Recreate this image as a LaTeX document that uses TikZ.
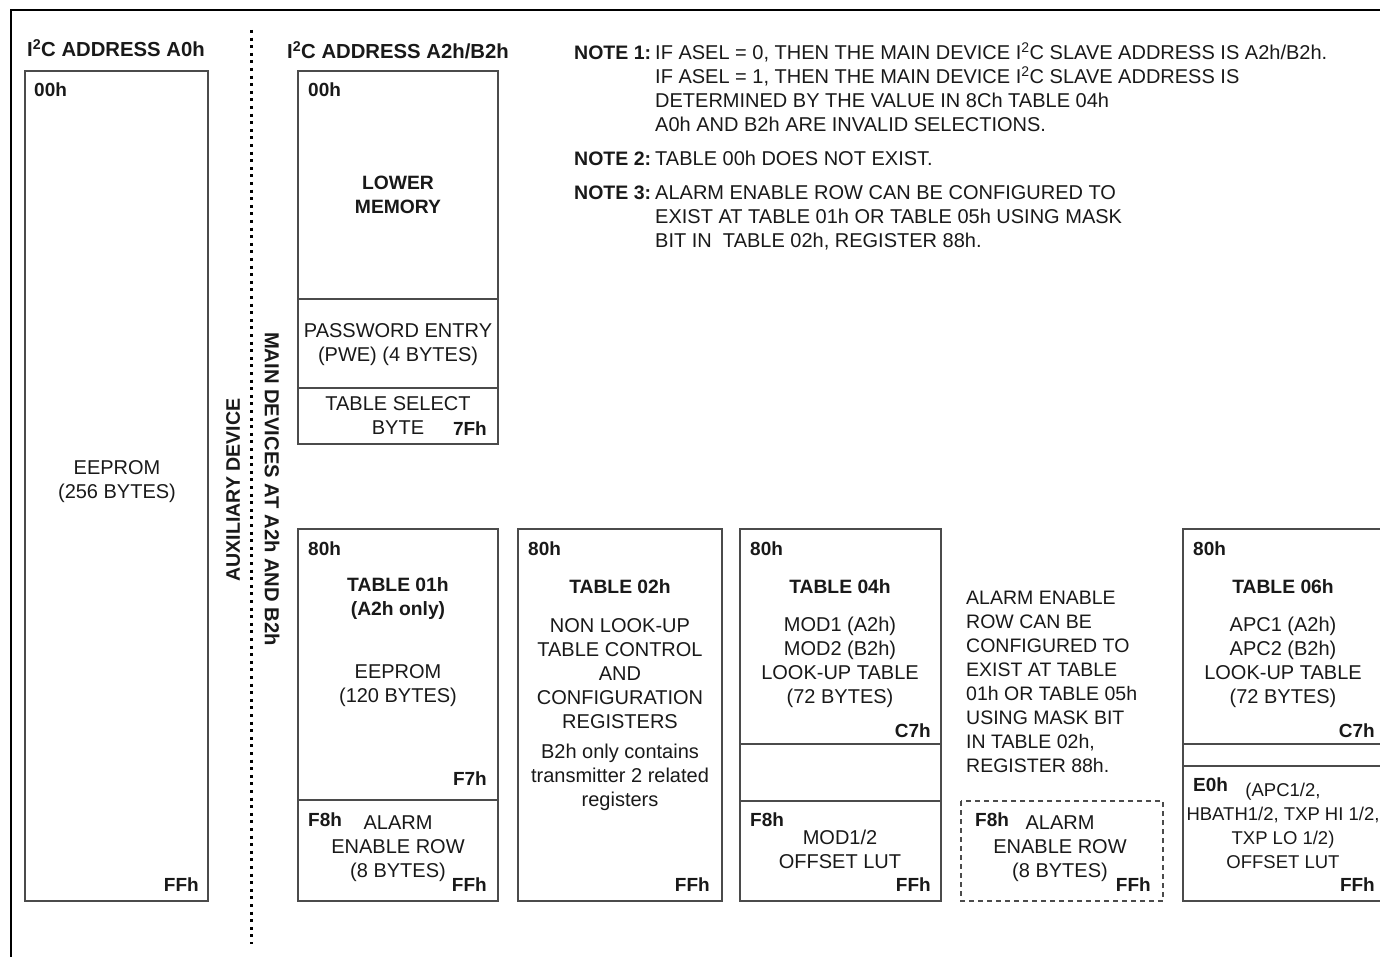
\documentclass[tikz,border=0pt]{standalone}
\usepackage{fontspec}
\setmainfont{Liberation Sans}
\definecolor{boxc}{RGB}{75,75,75}
\definecolor{txtc}{RGB}{25,25,25}
\begin{document}
\begin{tikzpicture}[x=1pt,y=-1pt,
 mbox/.style={draw=boxc,line width=2.2pt},
 dbox/.style={draw=boxc,line width=1.6pt,dash pattern=on 5pt off 4pt},
 txt/.style={text=txtc,inner sep=0pt,align=center,font=\fontsize{20}{24}\selectfont},
 btxt/.style={txt,font=\bfseries\fontsize{19.3}{24}\selectfont},
 headtxt/.style={text=txtc,inner sep=0pt,font=\bfseries\fontsize{20.3}{24}\selectfont},
 sidetxt/.style={text=txtc,inner sep=0pt,font=\bfseries\fontsize{19.6}{24}\selectfont},
 addr/.style={text=txtc,inner sep=0pt,font=\bfseries\fontsize{19}{22}\selectfont},
 note/.style={text=txtc,inner sep=0pt,align=left,font=\fontsize{20}{24}\selectfont},
 notelbl/.style={text=txtc,inner sep=0pt,font=\bfseries\fontsize{19.5}{24}\selectfont},
]
\useasboundingbox (0,0) rectangle (1380,957);
\clip (0,0) rectangle (1380,957);
% frame
\draw[line width=1.6pt,black] (11,965) -- (11,10) -- (1390,10);
% dotted separator
\draw[line width=3pt,black,dash pattern=on 3pt off 4.6pt] (251,30) -- (251,944);

% headings
\node[headtxt,anchor=base west] (h1) at (27,57) {I\textsuperscript{2}C ADDRESS A0h};
\node[headtxt,anchor=base west] (h2) at (287,59) {I\textsuperscript{2}C ADDRESS A2h/B2h};

% rotated labels
\node[sidetxt,rotate=90] (aux) at (233,490) {AUXILIARY DEVICE};
\node[sidetxt,rotate=-90,font=\bfseries\fontsize{20.2}{24}\selectfont] (main) at (272,489) {MAIN DEVICES AT A2h AND B2h};

% left box A0h
\draw[mbox] (25,71) rectangle (208,901);
\node[addr,anchor=base west] (a0s) at (34,97) {00h};
\node[addr,anchor=base east] (a0e) at (199,891) {FFh};
\node[txt] (a0t) at (117,482) {EEPROM\\(256 BYTES)};

% upper box A2h
\draw[mbox] (298,71) rectangle (498,444);
\draw[mbox] (298,299) -- (498,299);
\draw[mbox] (298,388) -- (498,388);
\node[addr,anchor=base west] (ls) at (308,97) {00h};
\node[btxt] (lm) at (398,195) {LOWER\\MEMORY};
\node[txt] (pwe) at (398,345) {PASSWORD ENTRY\\(PWE) (4 BYTES)};
\node[txt] (tsel) at (398,404) {TABLE SELECT};
\node[txt] (tbyte) at (398,428) {BYTE};
\node[addr,anchor=base east] (t7f) at (487,435) {7Fh};

% table 01h
\draw[mbox] (298,529) rectangle (498,901);
\draw[mbox] (298,800) -- (498,800);
\node[addr,anchor=base west] (t1s) at (308,555) {80h};
\node[btxt] (t1t) at (398,599) {TABLE 01h\\(A2h only)};
\node[txt] (t1e) at (398,686) {EEPROM\\(120 BYTES)};
\node[addr,anchor=base east] (t1f7) at (487,785) {F7h};
\node[addr,anchor=base west] (t1f8) at (308,826) {F8h};
\node[txt] (t1a) at (398,849) {ALARM\\ENABLE ROW\\(8 BYTES)};
\node[addr,anchor=base east] (t1ff) at (487,891) {FFh};

% table 02h
\draw[mbox] (518,529) rectangle (722,901);
\node[addr,anchor=base west] (t2s) at (528,555) {80h};
\node[btxt] (t2t) at (620,587) {TABLE 02h};
\node[txt] (t2d) at (620,674) {NON LOOK-UP\\TABLE CONTROL\\AND\\CONFIGURATION\\REGISTERS};
\node[txt] (t2n) at (620,777) {B2h only contains\\transmitter 2 related\\registers};
\node[addr,anchor=base east] (t2ff) at (710,891) {FFh};

% table 04h
\draw[mbox] (740,529) rectangle (941,901);
\draw[mbox] (740,744) -- (941,744);
\draw[mbox] (740,801) -- (941,801);
\node[addr,anchor=base west] (t4s) at (750,555) {80h};
\node[btxt] (t4t) at (840,587) {TABLE 04h};
\node[txt] (t4d) at (840,662) {MOD1 (A2h)\\MOD2 (B2h)\\LOOK-UP TABLE\\(72 BYTES)};
\node[addr,anchor=base east] (t4c7) at (931,737) {C7h};
\node[addr,anchor=base west] (t4f8) at (750,826) {F8h};
\node[txt] (t4o) at (840,849) {MOD1/2\\OFFSET LUT};
\node[addr,anchor=base east] (t4ff) at (931,891) {FFh};

% alarm note text
\node[note,anchor=west,font=\fontsize{19.5}{24}\selectfont] (alr) at (966,682) {ALARM ENABLE\\ROW CAN BE\\CONFIGURED TO\\EXIST AT TABLE\\01h OR TABLE 05h\\USING MASK BIT\\IN TABLE 02h,\\REGISTER 88h.};

% dashed alarm row
\draw[dbox] (961,801) rectangle (1163,901);
\node[addr,anchor=base west] (daf8) at (975,826) {F8h};
\node[txt] (dat) at (1060,849) {ALARM\\ENABLE ROW\\(8 BYTES)};
\node[addr,anchor=base east] (daff) at (1151,891) {FFh};

% table 06h
\draw[mbox] (1183,529) rectangle (1386,901);
\draw[mbox] (1183,744) -- (1386,744);
\draw[mbox] (1183,766) -- (1386,766);
\node[addr,anchor=base west] (t6s) at (1193,555) {80h};
\node[btxt] (t6t) at (1283,587) {TABLE 06h};
\node[txt] (t6d) at (1283,662) {APC1 (A2h)\\APC2 (B2h)\\LOOK-UP TABLE\\(72 BYTES)};
\node[addr,anchor=base east] (t6c7) at (1375,737) {C7h};
\node[addr,anchor=base west] (t6e0) at (1193,791) {E0h};
\node[txt,font=\fontsize{18.5}{24}\selectfont] (t6o) at (1283,826) {(APC1/2,\\HBATH1/2, TXP HI 1/2,\\TXP LO 1/2)\\OFFSET LUT};
\node[addr,anchor=base east] (t6ff) at (1375,891) {FFh};

% notes
\node[notelbl,anchor=base west] (n1l) at (574,60) {NOTE 1:};
\node[note,anchor=base west] (n1a) at (655,60) {IF ASEL = 0, THEN THE MAIN DEVICE I\textsuperscript{2}C SLAVE ADDRESS IS A2h/B2h.};
\node[note,anchor=base west] (n1b) at (655,84) {IF ASEL = 1, THEN THE MAIN DEVICE I\textsuperscript{2}C SLAVE ADDRESS IS};
\node[note,anchor=base west] (n1c) at (655,108) {DETERMINED BY THE VALUE IN 8Ch TABLE 04h};
\node[note,anchor=base west] (n1d) at (655,132) {A0h AND B2h ARE INVALID SELECTIONS.};
\node[notelbl,anchor=base west] (n2l) at (574,166) {NOTE 2:};
\node[note,anchor=base west] (n2a) at (655,166) {TABLE 00h DOES NOT EXIST.};
\node[notelbl,anchor=base west] (n3l) at (574,200) {NOTE 3:};
\node[note,anchor=base west] (n3a) at (655,200) {ALARM ENABLE ROW CAN BE CONFIGURED TO};
\node[note,anchor=base west] (n3b) at (655,224) {EXIST AT TABLE 01h OR TABLE 05h USING MASK};
\node[note,anchor=base west] (n3c) at (655,248) {BIT IN\ \ TABLE 02h, REGISTER 88h.};
\end{tikzpicture}
\end{document}
